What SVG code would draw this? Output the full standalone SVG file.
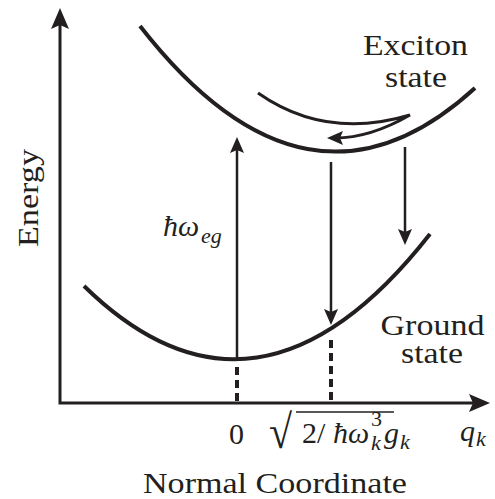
<svg xmlns="http://www.w3.org/2000/svg" width="495" height="499" viewBox="0 0 495 499">
<style>
.ln{fill:none;stroke:#231f20;stroke-linecap:butt}
.curve{stroke-width:4}
.axis{stroke-width:3;stroke-linejoin:miter}
.arr{stroke-width:2.5}
.dash{stroke-width:4;stroke-dasharray:8 5}
.it{font-style:italic}
</style>
<defs>
<marker id="ah" viewBox="-1 -8 18 16" markerWidth="18" markerHeight="16" refX="8" refY="0" orient="auto" markerUnits="userSpaceOnUse">
<path d="M0,-7 L16,0 L0,7 L3,0 Z" fill="#231f20"/>
</marker>
<marker id="axh" viewBox="-1 -10 23 20" markerWidth="23" markerHeight="20" refX="10" refY="0" orient="auto-start-reverse" markerUnits="userSpaceOnUse">
<path d="M0,-9 L21,0 L0,9 L4,0 Z" fill="#231f20"/>
</marker>
</defs>
<rect width="495" height="499" fill="#fff"/>
<g id="axes">
<path class="ln axis" d="M60,19 V403 H479" marker-start="url(#axh)" marker-end="url(#axh)"/>
</g>
<g id="exciton-curve">
<path class="ln curve" d="M140,26 Q307.5,241 475,88"/>
</g>
<g id="ground-curve">
<path class="ln curve" d="M84,286 Q257,455 430,234"/>
</g>
<g id="connectors">
<path class="ln" stroke-width="3" d="M258,93 Q325.6,140.3 410,115 Q370,138 335,138" marker-end="url(#ah)"/>
<line class="ln arr" x1="237" y1="359" x2="237" y2="145" marker-end="url(#ah)"/>
<line class="ln arr" x1="331" y1="162" x2="331" y2="317" marker-end="url(#ah)"/>
<line class="ln arr" x1="405" y1="147" x2="405" y2="237" marker-end="url(#ah)"/>
<line class="ln dash" x1="237" y1="367" x2="237" y2="401"/>
<line class="ln dash" x1="331" y1="340" x2="331" y2="401"/>
</g>
<g id="labels" font-family="Liberation Serif" fill="#231f20">
<text transform="translate(38,247) rotate(-90)" font-size="30" font-family="Liberation Serif" textLength="98" lengthAdjust="spacingAndGlyphs">Energy</text>
<text x="143" y="493" font-size="30" font-family="Liberation Serif" textLength="264" lengthAdjust="spacingAndGlyphs">Normal Coordinate</text>
<text x="363" y="55" font-size="30" font-family="Liberation Serif" textLength="105" lengthAdjust="spacingAndGlyphs">Exciton</text>
<text x="385" y="87" font-size="30" font-family="Liberation Serif" textLength="62" lengthAdjust="spacingAndGlyphs">state</text>
<text x="380.5" y="335" font-size="30" font-family="Liberation Serif" textLength="104" lengthAdjust="spacingAndGlyphs">Ground</text>
<text x="401" y="363" font-size="30" font-family="Liberation Serif" textLength="62" lengthAdjust="spacingAndGlyphs">state</text>
<text x="229" y="444" font-size="30" font-family="Liberation Serif">0</text>
<g id="hbar-omega-eg">
<text x="163" y="236" font-size="30" class="it" font-family="Liberation Serif">ħω</text>
<text x="201" y="243" font-size="22" class="it" font-family="Liberation Serif">eg</text>
</g>
<g id="shift-label">
<text transform="translate(269,448) scale(1.5,1.7)" font-size="28" font-family="Liberation Serif">√</text>
<line class="ln" stroke-width="1.6" x1="296" y1="412" x2="394" y2="412"/>
<text x="302" y="443" font-size="30" font-family="Liberation Serif">2/</text>
<text x="333" y="443" font-size="30" class="it" font-family="Liberation Serif">ħω</text>
<text x="371" y="426" font-size="22" font-family="Liberation Serif">3</text>
<text x="371" y="450" font-size="22" class="it" font-family="Liberation Serif">k</text>
<text x="384" y="443" font-size="30" class="it" font-family="Liberation Serif">g</text>
<text x="400" y="449" font-size="22" class="it" font-family="Liberation Serif">k</text>
</g>
<g id="qk">
<text x="460" y="441" font-size="30" class="it" font-family="Liberation Serif">q</text>
<text x="476" y="446" font-size="22" class="it" font-family="Liberation Serif">k</text>
</g>
</g>
</svg>
